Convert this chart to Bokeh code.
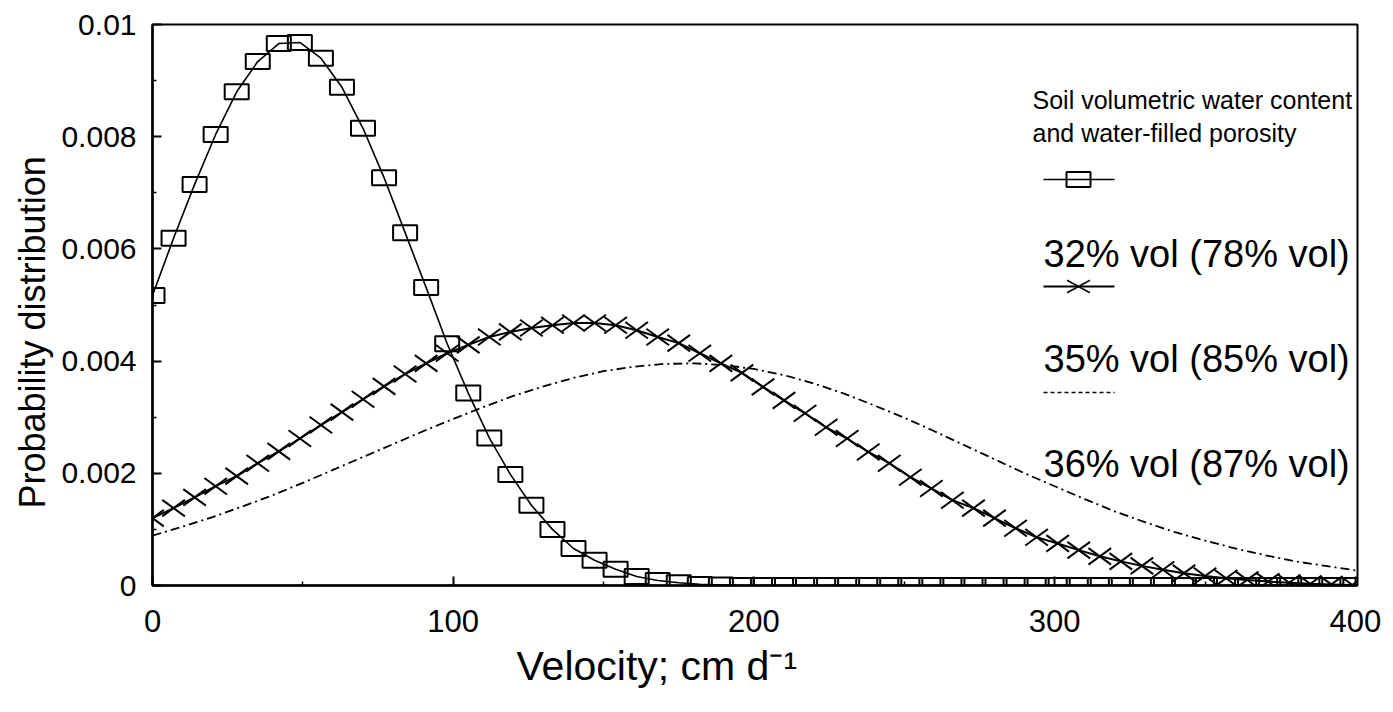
from bokeh.plotting import figure
from bokeh.models import FixedTicker, CustomJSTickFormatter, Label, Range1d, Title
from bokeh.embed import file_html
from bokeh.resources import INLINE

# ---------------- data ----------------
velocity = [0, 7, 14, 21, 28, 35, 42, 49, 56, 63, 70, 77, 84, 91, 98, 105, 112,
            119, 126, 133, 140, 147, 154, 161, 168, 175, 182, 189, 196, 203, 210,
            217, 224, 231, 238, 245, 252, 259, 266, 273, 280, 287, 294, 301, 308,
            315, 322, 329, 336, 343, 350, 357, 364, 371, 378, 385, 392, 399]

prob_32 = [0.00517, 0.00619, 0.00715, 0.00804, 0.00880, 0.00934, 0.00966, 0.00968,
           0.00940, 0.00888, 0.00815, 0.00727, 0.00629, 0.00531, 0.00431, 0.00343,
           0.00263, 0.00198, 0.00143, 0.00100, 0.00066, 0.00045, 0.00029, 0.00016,
           0.00009, 0.00005, 0.00002, 0.00001, 0, 0, 0, 0, 0, 0, 0, 0, 0, 0, 0, 0,
           0, 0, 0, 0, 0, 0, 0, 0, 0, 0, 0, 0, 0, 0, 0, 0, 0, 0]

prob_35 = [0.00120, 0.00138, 0.00157, 0.00177, 0.00195, 0.00218, 0.00239, 0.00262,
           0.00286, 0.00309, 0.00332, 0.00355, 0.00377, 0.00396, 0.00414, 0.00429,
           0.00443, 0.00452, 0.00459, 0.00464, 0.00468, 0.00468, 0.00464, 0.00455,
           0.00443, 0.00432, 0.00414, 0.00396, 0.00379, 0.00354, 0.00330, 0.00307,
           0.00282, 0.00262, 0.00238, 0.00218, 0.00193, 0.00173, 0.00152, 0.00138,
           0.00120, 0.00102, 0.00086, 0.00075, 0.00063, 0.00052, 0.00043, 0.00035,
           0.00028, 0.00022, 0.00017, 0.00013, 0.00010, 0.00007, 0.00005, 0.00003,
           0.00002, 0.00001]

velocity_36 = [0, 10, 20, 30, 40, 50, 60, 70, 80, 90, 100, 110, 120, 130, 140,
               150, 160, 170, 180, 190, 200, 210, 220, 230, 240, 250, 260, 270,
               280, 290, 300, 310, 320, 330, 340, 350, 360, 370, 380, 390, 400]
prob_36 = [0.00089, 0.00105, 0.00122, 0.00141, 0.00161, 0.00183, 0.00206, 0.00229,
           0.00252, 0.00275, 0.00297, 0.00318, 0.00338, 0.00355, 0.00370, 0.00382,
           0.00390, 0.00395, 0.00396, 0.00393, 0.00386, 0.00375, 0.00360, 0.00342,
           0.00321, 0.00299, 0.00275, 0.00250, 0.00225, 0.00200, 0.00177, 0.00154,
           0.00132, 0.00113, 0.00095, 0.00080, 0.00066, 0.00054, 0.00043, 0.00035,
           0.00027]

x_ticks = [0, 100, 200, 300, 400]
x_minor_ticks = [50, 150, 250, 350]
y_ticks = [0, 0.002, 0.004, 0.006, 0.008, 0.01]
y_minor_ticks = [0.001, 0.003, 0.005, 0.007, 0.009]

legend_title = ["Soil volumetric water content", "and water-filled porosity"]
series_labels = ["32% vol (78% vol)", "35% vol (85% vol)", "36% vol (87% vol)"]
x_title = "Velocity; cm d\u207b\u00b9"
y_title = "Probability distribution"

# ---------------- layout ----------------
W, H = 1393, 712
L, R, T, B = 152, 36, 24, 127
X0, X1 = 0, 400.7
Y0, Y1 = 0, 0.01
FW, FH = W - L - R, H - T - B
FONT = "Liberation Sans"


def sx(px):
    return X0 + (px - L) / FW * (X1 - X0)


def sy(py):
    return Y0 + (T + FH - py) / FH * (Y1 - Y0)


p = figure(width=W, height=H, x_range=Range1d(X0, X1), y_range=Range1d(Y0, Y1),
           output_backend="svg", toolbar_location=None,
           min_border_left=L, min_border_right=R, min_border_top=T, min_border_bottom=B)
p.background_fill_color = "white"
p.border_fill_color = "white"
p.outline_line_color = "black"
p.outline_line_width = 2
p.xgrid.visible = False
p.ygrid.visible = False

for ax in (p.xaxis[0], p.yaxis[0]):
    ax.axis_line_width = 2.5
    ax.axis_line_color = "black"
    ax.major_tick_in = 9
    ax.major_tick_out = 0
    ax.minor_tick_in = 4
    ax.minor_tick_out = 0
    ax.major_tick_line_width = 2
    ax.minor_tick_line_width = 1.5
    ax.major_label_text_font = FONT
    ax.major_label_text_color = "black"

p.xaxis.major_label_text_font_size = "31px"
p.yaxis.major_label_text_font_size = "30px"
p.xaxis.ticker = FixedTicker(ticks=x_ticks, minor_ticks=x_minor_ticks)
p.yaxis.ticker = FixedTicker(ticks=y_ticks, minor_ticks=y_minor_ticks)
p.xaxis.major_label_standoff = 24
p.yaxis.major_label_standoff = 16
p.yaxis.formatter = CustomJSTickFormatter(
    code="return tick == 0 ? '0' : String(parseFloat(tick.toFixed(4)));")

# axis titles as side titles, so that they can be shifted along their axis
p.add_layout(Title(text=x_title, align="left", offset=516 - L, standoff=12,
                   text_font=FONT, text_font_size="41px", text_font_style="normal",
                   text_color="black"), "below")
p.add_layout(Title(text=y_title, align="left", offset=77, standoff=12,
                   text_font=FONT, text_font_size="36px", text_font_style="normal",
                   text_color="black"), "left")

# ---------------- curves ----------------
p.line(velocity_36, prob_36, line_color="black", line_width=1.8, line_dash="9 4 2 4")

p.line(velocity, prob_35, line_color="black", line_width=2)
p.scatter(velocity, prob_35, marker="dash", size=28, angle=0.63,
          line_color="black", line_width=2)
p.scatter(velocity, prob_35, marker="dash", size=28, angle=-0.63,
          line_color="black", line_width=2)

p.line(velocity, prob_32, line_color="black", line_width=1.6)
p.rect(velocity, prob_32, width=24, height=15, width_units="screen",
       height_units="screen", fill_alpha=0, line_color="black", line_width=2)

# ---------------- legend (drawn by hand, glyph above its text) ----------------
for i, t in enumerate(legend_title):
    p.add_layout(Label(x=sx(1032), y=sy(99 + 33 * i), text=t, text_align="left",
                       text_baseline="alphabetic", text_font=FONT,
                       text_font_size="25px", text_color="black"))

lx0, lx1, lxc = sx(1043), sx(1114), sx(1078)
p.line([lx0, lx1], [sy(179), sy(179)], line_color="black", line_width=1.6)
p.rect([lxc], [sy(179)], width=24, height=15, width_units="screen",
       height_units="screen", fill_alpha=0, line_color="black", line_width=2)

p.line([lx0, lx1], [sy(286), sy(286)], line_color="black", line_width=2)
p.scatter([lxc], [sy(286)], marker="dash", size=26, angle=0.5, line_color="black", line_width=1.5)
p.scatter([lxc], [sy(286)], marker="dash", size=26, angle=-0.5, line_color="black", line_width=1.5)

p.line([lx0, lx1], [sy(392), sy(392)], line_color="black", line_width=1.6, line_dash="4 3")

for i, t in enumerate(series_labels):
    p.add_layout(Label(x=sx(1043), y=sy(253 + 105 * i), text=t, text_align="left",
                       text_baseline="alphabetic", text_font=FONT,
                       text_font_size="38px", text_color="black"))

open("out.html", "w").write(file_html(p, INLINE))
